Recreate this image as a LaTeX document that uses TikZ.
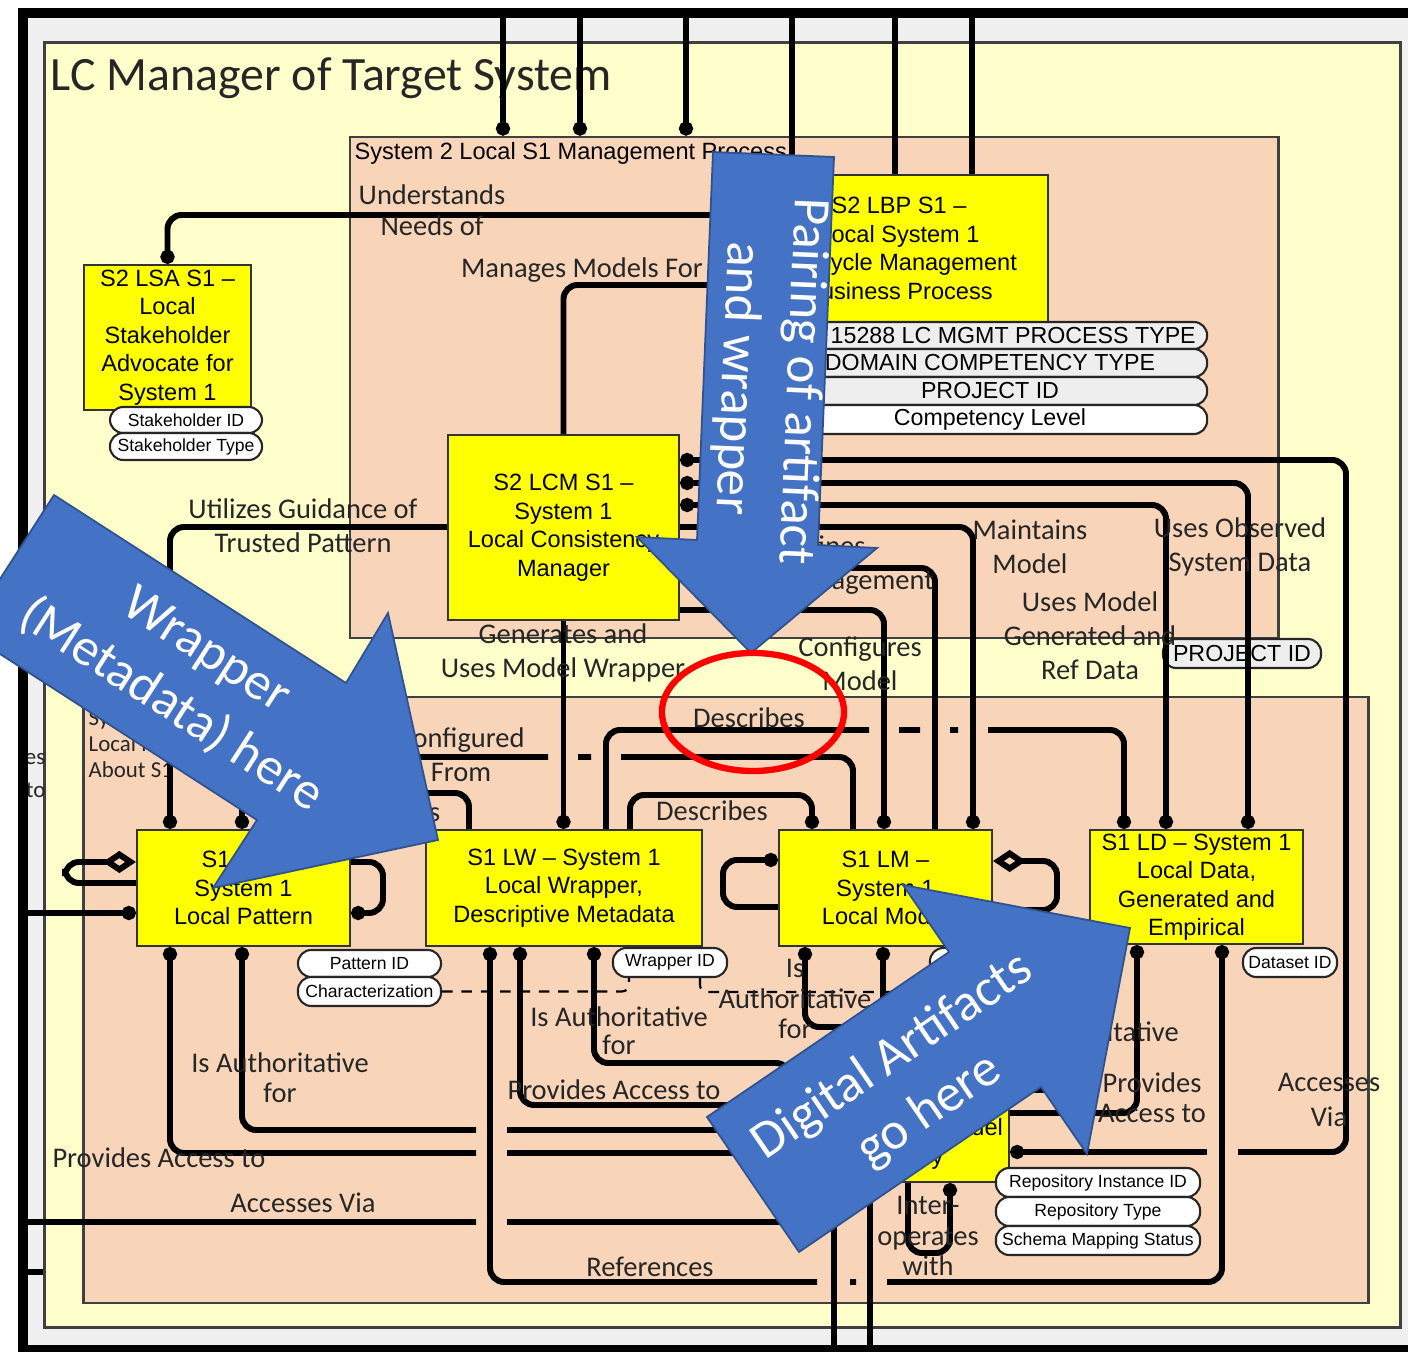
\documentclass[tikz,border=0pt]{standalone}
\usepackage{fontspec}
\usepackage{tikz}
\usetikzlibrary{arrows.meta}
\newfontfamily\boxfont{Liberation Sans}
\newfontfamily\lblfont{Carlito}

\definecolor{paleyellow}{HTML}{FFFFCC}
\definecolor{peach}{HTML}{F8D5B8}
\definecolor{boxyellow}{HTML}{FFFF00}
\definecolor{bandgray}{HTML}{F0F0F0}
\definecolor{pillgray}{HTML}{EEEEEE}
\definecolor{arrowblue}{HTML}{4472C4}
\definecolor{arrowedge}{HTML}{2F528F}

\begin{document}
\begin{tikzpicture}[
    x=0.01cm, y=-0.01cm,
    region/.style={draw=black!75, line width=0.7pt, inner sep=0pt},
    block/.style={draw=black!80, line width=0.6pt, fill=boxyellow, inner sep=0pt, align=center,
        font=\boxfont\fontsize{6.7}{8.1}\selectfont},
    pill/.style={draw=black!85, line width=0.6pt, fill=white, rounded corners=3.8pt, inner sep=0pt,
        font=\boxfont\fontsize{5}{6}\selectfont},
    bigpill/.style={pill, font=\boxfont\fontsize{6.6}{8}\selectfont},
    lbl/.style={align=center, inner sep=0pt, text=black!85, font=\lblfont\fontsize{8.1}{9.7}\selectfont},
    conn/.style={line width=1.7pt, rounded corners=4pt},
    todot/.style={-{Circle[length=4pt]}},
    fromdot/.style={{Circle[length=4pt]}-},
    bothdot/.style={{Circle[length=4pt]}-{Circle[length=4pt]}},
    diamondend/.style={-{Diamond[open, length=9.4pt, width=6.3pt]}},
    attrlink/.style={line width=0.6pt, dash pattern=on 3pt off 2.5pt, rounded corners=2pt},
    bluearrow/.style={fill=arrowblue, draw=arrowedge, line width=0.5pt},
    arrowtext/.style={align=center, inner sep=0pt, text=white, font=\lblfont\fontsize{15}{18.5}\selectfont}
]
\useasboundingbox (0,0) rectangle (1408,1352);
\clip (0,0) rectangle (1408,1352);

% Frame and regions
\fill[white] (0,0) rectangle (1408,1352);
\fill[bandgray] (18,8) rectangle (1408,1352);
\node[region, fill=paleyellow, minimum width=13.55cm, minimum height=12.84cm] (target) at (722.5,685) {};
\node[region, fill=peach, minimum width=9.28cm, minimum height=5.01cm] (mgmt) at (814,387.5) {};
\node[region, fill=peach, minimum width=12.84cm, minimum height=6.06cm] (sys1) at (726,1000) {};
\node[anchor=base west, inner sep=0pt, text=black!85, font=\lblfont\fontsize{13.6}{16}\selectfont] (title) at (50,91) {LC Manager of Target System};
\node[anchor=west, inner sep=0pt, font=\boxfont\fontsize{6.7}{8}\selectfont] (mgmtName) at (354,153) {System 2 Local S1 Management Process};
\node[anchor=west, inner sep=0pt, align=left, text=black!85, font=\lblfont\fontsize{6.5}{7.4}\selectfont] (sys1Name) at (88,744) {System 1\\Local Information\\About S1};
\node[bigpill, fill=pillgray, minimum width=1.58cm, minimum height=0.29cm] (projID) at (1242,653.5) {PROJECT ID};

% Entities
\node[block, minimum width=1.67cm, minimum height=1.45cm] (LSA) at (167.5,337.5) {S2 LSA S1 –\\Local\\Stakeholder\\Advocate for\\System 1};
\node[block, minimum width=2.98cm, minimum height=1.47cm] (LBP) at (899,248.5) {S2 LBP S1 –\\Local System 1\\Lifecycle Management\\Business Process};
\node[block, minimum width=2.31cm, minimum height=1.85cm] (LCM) at (563.5,527.5) {S2 LCM S1 –\\System 1\\Local Consistency\\Manager};
\node[block, minimum width=2.13cm, minimum height=1.16cm] (LP) at (243.5,888) {S1 LP –\\System 1\\Local Pattern};
\node[block, minimum width=2.76cm, minimum height=1.16cm] (LW) at (564,888) {S1 LW – System 1\\Local Wrapper,\\Descriptive Metadata};
\node[block, minimum width=2.13cm, minimum height=1.16cm] (LM) at (885.5,888) {S1 LM –\\System 1\\Local Model};
\node[block, minimum width=2.13cm, minimum height=1.14cm] (LD) at (1196.5,887) {S1 LD – System 1\\Local Data,\\Generated and\\Empirical};
\node[block, minimum width=2.44cm, minimum height=1.04cm] (LR) at (887,1130) {S1 LMR –\\System 1 Local Model\\Repository};

% Attributes
\node[pill, minimum width=1.52cm, minimum height=0.26cm] (shID) at (186,420) {Stakeholder ID};
\node[pill, minimum width=1.52cm, minimum height=0.27cm] (shType) at (186,446.5) {Stakeholder Type};
\node[bigpill, fill=pillgray, minimum width=4.34cm, minimum height=0.27cm] (lbpType) at (990,335.5) {ISO 15288 LC MGMT PROCESS TYPE};
\node[bigpill, fill=pillgray, minimum width=4.34cm, minimum height=0.28cm] (lbpDomain) at (990,363) {DOMAIN COMPETENCY TYPE};
\node[bigpill, fill=pillgray, minimum width=4.34cm, minimum height=0.28cm] (lbpProject) at (990,391) {PROJECT ID};
\node[bigpill, minimum width=4.34cm, minimum height=0.29cm] (lbpLevel) at (990,419.5) {Competency Level};
\node[pill, minimum width=1.43cm, minimum height=0.27cm] (patID) at (369.5,963.5) {Pattern ID};
\node[pill, minimum width=1.43cm, minimum height=0.29cm] (charID) at (369.5,991.5) {Characterization};
\node[pill, minimum width=1.14cm, minimum height=0.29cm] (wrapID) at (670,962.5) {Wrapper ID};
\node[pill, minimum width=1.10cm, minimum height=0.29cm] (modelID) at (985,962.5) {Model ID};
\node[pill, minimum width=0.94cm, minimum height=0.29cm] (dataID) at (1290,962.5) {Dataset ID};
\node[pill, minimum width=2.04cm, minimum height=0.29cm] (repoID) at (1098,1182.5) {Repository Instance ID};
\node[pill, minimum width=2.04cm, minimum height=0.29cm] (repoType) at (1098,1211.5) {Repository Type};
\node[pill, minimum width=2.04cm, minimum height=0.29cm] (repoMap) at (1098,1240.5) {Schema Mapping Status};

% Free ends at the frame
\coordinate (topA) at (503,13);
\coordinate (topB) at (580,13);
\coordinate (topC) at (686,13);
\coordinate (topD) at (792,13);
\coordinate (topE) at (895,13);
\coordinate (topF) at (972,13);
\coordinate (leftA) at (23,913);
\coordinate (leftB) at (23,1222);
\coordinate (leftC) at (23,1272);
\coordinate (botA) at (834,1352);
\coordinate (botB) at (870,1352);

% Management process links
\draw[conn, todot] (topA) -- (mgmt.north -| topA);
\draw[conn, todot] (topB) -- (mgmt.north -| topB);
\draw[conn, todot] (topC) -- (mgmt.north -| topC);
\draw[conn] (topD) -- (LBP.north -| topD);
\draw[conn] (topE) -- (LBP.north -| topE);
\draw[conn] (topF) -- (LBP.north -| topF);
\draw[conn, todot] (LBP.west |- 0,215) -| (LSA.north);
\draw[conn] (LBP.west |- 0,285) -| (LCM.north);
\draw[conn, todot] (LCM.west |- 0,527) -| (LP.north -| 170,0);
\draw[conn, todot] (LCM.south) -- (LW.north -| LCM.south);

% Consistency manager to system 1
\draw[conn, fromdot] (LCM.east |- 0,460) -| (1346,1152) -- (1238,1152);
\draw[conn, todot] (1207,1152) -- (LR.east |- 0,1152);
\draw[conn, bothdot] (LCM.east |- 0,483) -| (LD.north -| 1248,0);
\draw[conn, bothdot] (LCM.east |- 0,505) -| (LD.north -| 1166,0);
\draw[conn, todot] (LCM.east |- 0,527) -| (LM.north -| 973,0);
\draw[conn] (LCM.east |- 0,568) -| (LM.north -| 935,0);
\draw[conn, todot] (LCM.east |- 0,610) -| (LM.north -| 884,0);

% Wrapper, pattern and model
\draw[conn, todot] (LW.north -| 606,0) |- (869,730) (899,730) -- (920,730) (950,730) -- (958,730) (988,730) -| (LD.north -| 1124,0);
\draw[conn, todot] (LM.north -| 853,0) |- (621,757) (591,757) -- (578,757) (548,757) -| (LP.north -| 242,0);
\draw[conn, todot] (LW.north -| 630,0) |- (812,795) -- (LM.north -| 812,0);
\draw[conn] (LW.north -| 469,0) |- (300,793) -- (LP.north -| 300,0);
\draw[conn, todot] (leftA) -- (LP.west |- leftA);
\draw[conn] (leftC) -- (target.west |- leftC);
\draw[conn, diamondend] (LP.west |- 0,883) -| (65,862) -- (LP.west |- 0,862);
\draw[conn, todot] (LP.east |- 0,862) -| (383,913) -- (LP.east |- 0,913);
\draw[conn, todot] (LM.west |- 0,907) -| (723,860) -- (LM.west |- 0,860);
\draw[conn, diamondend] (LM.east |- 0,910) -| (1057,861) -- (LM.east |- 0,861);

% Links to the repository
\draw[conn, fromdot] (LP.south -| 242,0) |- (476,1130);
\draw[conn] (507,1130) -- (LR.west |- 0,1130);
\draw[conn, fromdot] (LP.south -| 170,0) |- (476,1153);
\draw[conn] (507,1153) -- (LR.west |- 0,1153);
\draw[conn] (leftB) -- (476,1222) (507,1222) -| (LR.south -| 800,0);
\draw[conn, fromdot] (LW.south -| 520,0) |- (LR.west |- 0,1105);
\draw[conn, fromdot] (LW.south -| 594,0) |- (790,1063) -- (LR.north -| 790,0);
\draw[conn, fromdot] (LW.south -| 490,0) |- (817,1282);
\draw[conn, todot] (850,1282) -- (856,1282) (887,1282) -| (LD.south -| 1222,0);
\draw[conn, fromdot] (LM.south -| 805,0) |- (960,1027) -- (LR.north -| 960,0);
\draw[conn, fromdot] (LM.south -| 883,0) -- (LR.north -| 883,0);
\draw[conn] (LD.south -| 1095,0) |- (LR.east |- 0,1090);
\draw[conn, fromdot] (LD.south -| 1137,0) |- (LR.east |- 0,1113);
\draw[conn, todot] (LR.south -| 908,0) |- (950,1253) -- (LR.south -| 950,0);
\draw[conn] (LR.south -| 834,0) -- (botA);
\draw[conn] (LR.south -| 870,0) -- (botB);

% Attribute links
\draw[attrlink] (charID.east) -| (wrapID.south -| 629,0);
\draw[attrlink] (wrapID.south -| 700,0) |- (945,992) -- (modelID.south -| 945,0);

% Labels
\node[lbl, font=\lblfont\fontsize{8.1}{8.8}\selectfont] (lUnder) at (432,210) {Understands\\Needs of};
\node[lbl] (lManages) at (582,270) {Manages Models For};
\node[lbl] (lUtil) at (303,526) {Utilizes Guidance of\\Trusted Pattern};
\node[lbl] (lGen) at (563,653) {Generates and\\Uses Model Wrapper};
\node[lbl] (lDescA) at (749,718) {Describes};
\node[lbl] (lConfFrom) at (461,755) {Configured\\From};
\node[lbl] (lDescB) at (712,811) {Describes};
\node[lbl, anchor=east] (lDescC) at (441,812) {Describes};
\node[lbl] (lConfModel) at (860,664) {Configures\\Model};
\node[lbl, anchor=west, align=left] (lDefines) at (778,565) {Defines\\Management};
\node[lbl] (lMaint) at (1030,547) {Maintains\\Model};
\node[lbl] (lUsesGen) at (1090,636) {Uses Model\\Generated and\\Ref Data};
\node[lbl] (lUsesObs) at (1240,547) {Uses Observed\\System Data};
\node[lbl] (lAccR) at (1329,1100) {Accesses\\Via};
\node[lbl, font=\lblfont\fontsize{8.1}{8.6}\selectfont] (lProvD) at (1152,1098) {Provides\\Access to};
\node[lbl, font=\lblfont\fontsize{8.1}{8}\selectfont] (lAuthD) at (1090,1046) {Is Authoritative\\for};
\node[lbl, font=\lblfont\fontsize{8.1}{8.8}\selectfont] (lAuthM) at (795,999) {Is\\Authoritative\\for};
\node[lbl, font=\lblfont\fontsize{8.1}{8}\selectfont] (lAuthW) at (619,1031) {Is Authoritative\\for};
\node[lbl] (lProvW) at (614,1090) {Provides Access to};
\node[lbl, font=\lblfont\fontsize{8.1}{8.6}\selectfont] (lAuthP) at (280,1078) {Is Authoritative\\for};
\node[lbl] (lProvP) at (159,1158) {Provides Access to};
\node[lbl] (lAccL) at (303,1203) {Accesses Via};
\node[lbl] (lRefs) at (650,1267) {References};
\node[lbl, font=\lblfont\fontsize{8.1}{8.8}\selectfont] (lInter) at (928,1236) {Inter-\\operates\\with};
\node[lbl, anchor=east, align=right, font=\lblfont\fontsize{6.5}{9.4}\selectfont] (lOut) at (46,773) {Provides\\Access to};

% Outer frame
\fill[white] (-20,-20) rectangle (18,1372);
\draw[line width=2.85pt] (1430,13) -- (23,13) -- (23,1350) -- (1430,1350);

% Call-out arrows
\draw[bluearrow] (54,495) -- (346,683) -- (388,613) -- (438,840) -- (213,888) -- (257,820) -- (-34,632) -- cycle;
\node[arrowtext, rotate=-32.8] (tWrap) at (188,679) {Wrapper\\(Metadata) here};
\draw[bluearrow] (713,152) -- (834,157) -- (818,545) -- (877,548) -- (751,653) -- (637,537) -- (697,540) -- cycle;
\node[arrowtext, rotate=-92.4] (tPair) at (769,380) {Pairing of artifact\\and wrapper};
\draw[bluearrow] (707,1117) -- (949,952) -- (903,885) -- (1130,928) -- (1087,1154) -- (1041,1087) -- (799,1252) -- cycle;
\node[arrowtext, rotate=34.3] (tDig) at (911,1084) {Digital Artifacts\\go here};

% Highlight
\draw[red, line width=1.8pt] (753,712) ellipse [x radius=0.91cm, y radius=0.59cm];

\end{tikzpicture}
\end{document}
